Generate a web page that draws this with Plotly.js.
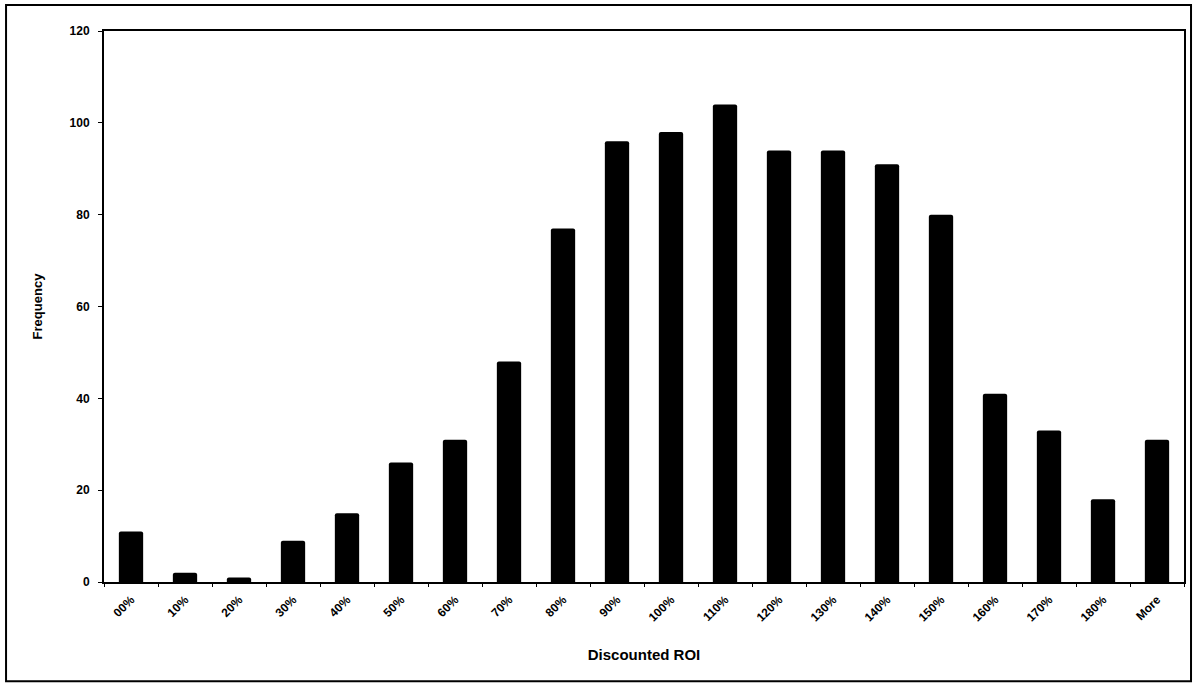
<!DOCTYPE html>
<html>
<head>
<meta charset="utf-8">
<script src="https://cdn.plot.ly/plotly-3.0.1.min.js"></script>
<style>
  html, body { margin: 0; padding: 0; background: #fff; }
  #chart { width: 1193px; height: 684px; }
</style>
</head>
<body>
<div id="chart"></div>
<script>
// Histogram bins of discounted ROI and their counts
const bins = ["00%", "10%", "20%", "30%", "40%", "50%", "60%", "70%", "80%", "90%",
              "100%", "110%", "120%", "130%", "140%", "150%", "160%", "170%", "180%", "More"];
const frequency = [11, 2, 1, 9, 15, 26, 31, 48, 77, 96,
                   98, 104, 94, 94, 91, 80, 41, 33, 18, 31];
const yTicks = [0, 20, 40, 60, 80, 100, 120];

const font = "Liberation Sans, Arial, sans-serif";

const trace = {
  type: "bar",
  x: bins,
  y: frequency,
  width: 0.45,
  marker: { color: "#000", line: { width: 0 }, cornerradius: 2 },
  hoverinfo: "x+y"
};

const layout = {
  width: 1193,
  height: 684,
  margin: { l: 104, r: 9, t: 31, b: 102 },
  paper_bgcolor: "#fff",
  plot_bgcolor: "#fff",
  showlegend: false,
  bargap: 0.55,
  font: { family: font, color: "#000" },
  xaxis: {
    type: "category",
    tickangle: -45,
    tickson: "boundaries",
    ticks: "outside",
    ticklen: 3,
    tickwidth: 1,
    tickcolor: "#000",
    ticklabelstandoff: 4,
    tickfont: { family: font, size: 12, color: "#000", weight: "bold" },
    showline: true,
    linecolor: "#000",
    linewidth: 2,
    mirror: true,
    showgrid: false,
    zeroline: false,
    title: { text: "<b>Discounted ROI</b>", font: { family: font, size: 15, color: "#000" }, standoff: 26 }
  },
  yaxis: {
    range: [0, 120],
    tickvals: yTicks,
    ticktext: yTicks.map(String),
    ticks: "outside",
    ticklen: 4,
    tickwidth: 1,
    tickcolor: "#000",
    ticklabelstandoff: 6,
    tickfont: { family: font, size: 12, color: "#000", weight: "bold" },
    showline: true,
    linecolor: "#000",
    linewidth: 2,
    mirror: true,
    showgrid: false,
    zeroline: false,
    title: { text: "<b>Frequency</b>", font: { family: font, size: 13, color: "#000" }, standoff: 24 }
  },
  shapes: [{
    type: "rect",
    xref: "paper", yref: "paper",
    x0: -0.0907, x1: 1.0065, y0: -0.18, y1: 1.047,
    line: { color: "#000", width: 2 },
    fillcolor: "rgba(0,0,0,0)",
    layer: "below"
  }]
};

Plotly.newPlot("chart", [trace], layout, { staticPlot: true, displayModeBar: false });
</script>
</body>
</html>
